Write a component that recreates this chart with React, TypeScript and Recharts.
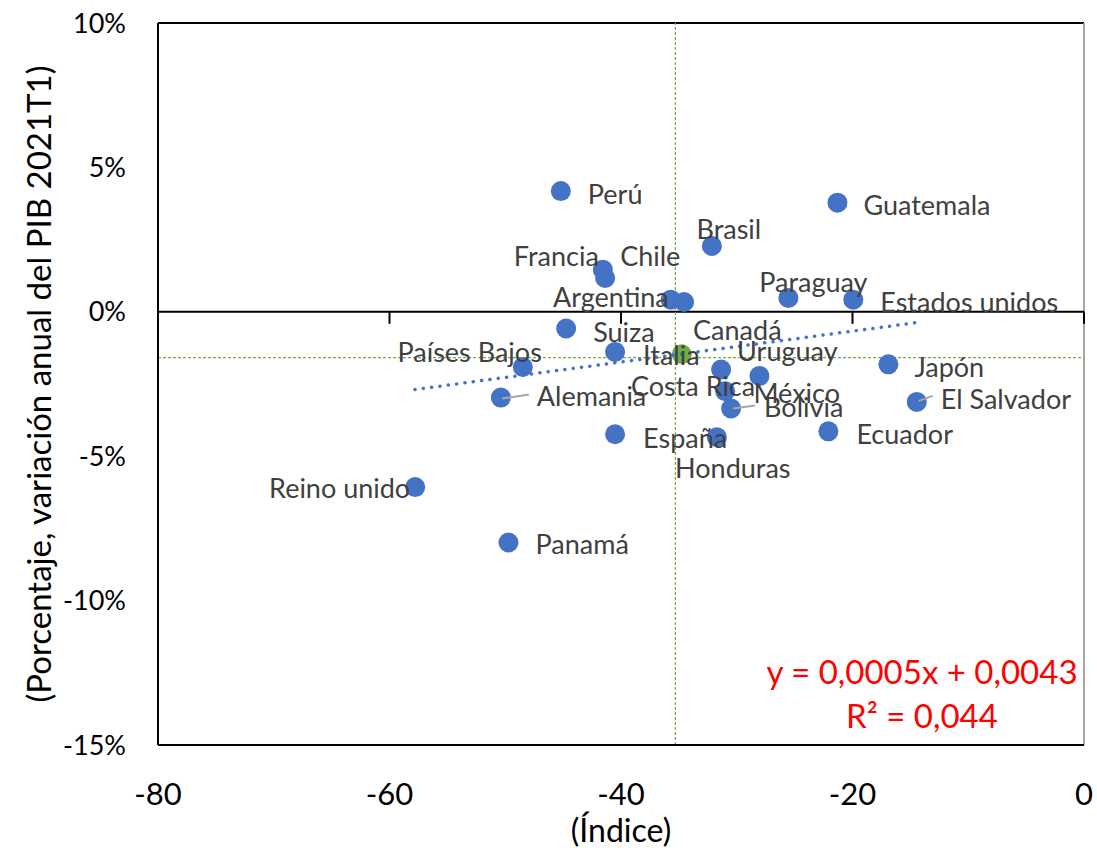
import {
  ScatterChart,
  Scatter,
  XAxis,
  YAxis,
  ReferenceLine,
} from "recharts";

// Data
const COUNTRIES = [
  "Perú", "Guatemala", "Brasil", "Francia", "Chile", "Argentina", "Canadá",
  "Paraguay", "Estados unidos", "Suiza", "Italia", "Países Bajos", "Uruguay",
  "México", "Costa Rica", "Bolivia", "Japón", "El Salvador", "Alemania",
  "España", "Honduras", "Ecuador", "Reino unido", "Panamá",
];
const INDEX_X = [
  -45.2, -21.3, -32.15, -41.57, -41.37, -35.7, -34.55,
  -25.54, -19.93, -44.74, -40.51, -48.48, -31.35,
  -28.04, -31.0, -30.49, -16.9, -14.45, -50.38,
  -40.51, -31.72, -22.08, -57.78, -49.72,
];
const GDP_Y = [
  4.18, 3.78, 2.28, 1.46, 1.17, 0.42, 0.34,
  0.48, 0.42, -0.58, -1.39, -1.91, -2.0,
  -2.22, -2.75, -3.35, -1.82, -3.12, -2.97,
  -4.24, -4.34, -4.14, -6.07, -7.99,
];
const AVERAGE_X = [-34.75];
const AVERAGE_Y = [-1.47];
const MEAN_LINE_X = -35.3;
const MEAN_LINE_Y = -1.59;
const TREND_X = [-57.8, -14.4];
const TREND_Y = [-2.69, -0.37];
const X_TICKS = [-80, -60, -40, -20, 0];
const Y_TICKS = [-15, -10, -5, 0, 5, 10];
const EQUATION = "y = 0,0005x + 0,0043";
const R_SQUARED = "R² = 0,044";

// Layout / style
const WIDTH = 1097;
const HEIGHT = 848;
const FONT = "Lato, 'Noto Sans', sans-serif";
const BLUE = "#4472C4";
const GREEN = "#70AD47";
const LABEL_COLOR = "#404040";

// label offsets relative to the point centre
type LabelPos = { dx: number; dy: number; anchor: "start" | "middle" | "end"; leader?: number[] };
const LABEL_POS: Record<string, LabelPos> = {
  "Perú": { dx: 27, dy: 2, anchor: "start" },
  "Guatemala": { dx: 26, dy: 2, anchor: "start" },
  "Brasil": { dx: 17, dy: -17, anchor: "middle" },
  "Francia": { dx: -4, dy: -14, anchor: "end" },
  "Chile": { dx: 15, dy: -23, anchor: "start" },
  "Argentina": { dx: -2, dy: -3, anchor: "end" },
  "Canadá": { dx: 9, dy: 28, anchor: "start" },
  "Paraguay": { dx: 25, dy: -16, anchor: "middle" },
  "Estados unidos": { dx: 27, dy: 2, anchor: "start" },
  "Suiza": { dx: 27, dy: 3, anchor: "start" },
  "Italia": { dx: 28, dy: 3, anchor: "start" },
  "Países Bajos": { dx: 19, dy: -15, anchor: "end" },
  "Uruguay": { dx: 16, dy: -19, anchor: "start" },
  "México": { dx: -6, dy: 17, anchor: "start" },
  "Costa Rica": { dx: 30, dy: -6, anchor: "end" },
  "Bolivia": { dx: 33, dy: -2, anchor: "start", leader: [2, 0, 24, -3] },
  "Japón": { dx: 26, dy: 2, anchor: "start" },
  "El Salvador": { dx: 24, dy: -3, anchor: "start", leader: [2, -1, 16, -6] },
  "Alemania": { dx: 36, dy: -2, anchor: "start", leader: [1, 1, 28, -3] },
  "España": { dx: 28, dy: 3, anchor: "start" },
  "Honduras": { dx: 16, dy: 30, anchor: "middle" },
  "Ecuador": { dx: 28, dy: 2, anchor: "start" },
  "Reino unido": { dx: -5, dy: 0, anchor: "end" },
  "Panamá": { dx: 27, dy: 1, anchor: "start" },
};

const countryData = COUNTRIES.map((name, i) => ({ name, x: INDEX_X[i], y: GDP_Y[i] }));
const averageData = AVERAGE_X.map((x, i) => ({ x, y: AVERAGE_Y[i] }));
const trendData = TREND_X.map((x, i) => ({ x, y: TREND_Y[i] }));

const dot = (color: string) => (props: any) => (
  <circle cx={props.cx} cy={props.cy} r={10} fill={color} />
);

const labelShape = (props: any) => {
  const name = props.payload?.name as string;
  const pos = LABEL_POS[name];
  if (!pos) return <g />;
  const { cx, cy } = props;
  return (
    <g>
      {pos.leader && (
        <line
          x1={cx + pos.leader[0]}
          y1={cy + pos.leader[1]}
          x2={cx + pos.leader[2]}
          y2={cy + pos.leader[3]}
          stroke="#A6A6A6"
          strokeWidth={2}
        />
      )}
      <text
        x={cx + pos.dx}
        y={cy + pos.dy}
        textAnchor={pos.anchor}
        dominantBaseline="central"
        fill={LABEL_COLOR}
        fontSize={27}
        fontFamily={FONT}
      >
        {name}
      </text>
    </g>
  );
};

// zero line with the x-axis tick marks hanging below it
const zeroAxis = (props: any) => {
  const { x1, x2, y1 } = props;
  const step = (x2 - x1) / (X_TICKS.length - 1);
  return (
    <g>
      <line x1={x1} y1={y1} x2={x2} y2={y1} stroke="#000" strokeWidth={2} />
      {X_TICKS.map((t, i) => (
        <line key={t} x1={x1 + i * step} y1={y1} x2={x1 + i * step} y2={y1 + 12} stroke="#000" strokeWidth={2} />
      ))}
    </g>
  );
};

export default function App() {
  return (
    <div style={{ position: "absolute", left: 0, top: 0, width: WIDTH, height: HEIGHT, background: "#fff" }}>
      <ScatterChart
        width={WIDTH}
        height={HEIGHT}
        margin={{ top: 23, right: 13, bottom: 0, left: 0 }}
      >
        <XAxis
          type="number"
          dataKey="x"
          domain={[-80, 0]}
          ticks={X_TICKS}
          height={103}
          axisLine={{ stroke: "#000", strokeWidth: 2 }}
          tickLine={false}
          tickMargin={32}
          tick={{ fill: "#000", fontSize: 31, fontFamily: FONT }}
          label={{
            value: "(Índice)",
            position: "insideBottom",
            offset: 6,
            fill: "#000",
            fontSize: 32,
            fontFamily: FONT,
          }}
        />
        <YAxis
          type="number"
          dataKey="y"
          domain={[-15, 10]}
          ticks={Y_TICKS}
          width={158}
          axisLine={{ stroke: "#000", strokeWidth: 2 }}
          tickLine={false}
          tickMargin={26}
          tickFormatter={(v: number) => `${v}%`}
          tick={{ fill: "#000", fontSize: 27, fontFamily: FONT }}
          label={{
            value: "(Porcentaje, variación anual del PIB 2021T1)",
            angle: -90,
            position: "insideLeft",
            offset: 39,
            fill: "#000",
            fontSize: 33,
            fontFamily: FONT,
            style: { textAnchor: "middle" },
          }}
        />
        <ReferenceLine y={10} stroke="#000" strokeWidth={2} />
        <ReferenceLine x={0} stroke="#A6A6A6" strokeWidth={2} />
        <ReferenceLine y={0} shape={zeroAxis} />
        <ReferenceLine x={MEAN_LINE_X} stroke={GREEN} strokeDasharray="3 2" strokeWidth={1.2} />
        <ReferenceLine y={MEAN_LINE_Y} stroke={GREEN} strokeDasharray="3 2" strokeWidth={1.2} />
        <Scatter
          data={countryData}
          shape={dot(BLUE)}
          isAnimationActive={false}
        />
        <Scatter
          data={averageData}
          shape={dot(GREEN)}
          isAnimationActive={false}
        />
        <Scatter
          data={trendData}
          line={{ stroke: BLUE, strokeWidth: 3.5, strokeDasharray: "0.1 8.3", strokeLinecap: "round" }}
          shape={() => <g />}
          isAnimationActive={false}
        />
        <Scatter
          data={countryData}
          shape={labelShape}
          isAnimationActive={false}
        />
      </ScatterChart>
      <svg
        width={WIDTH}
        height={HEIGHT}
        style={{ position: "absolute", left: 0, top: 0, pointerEvents: "none" }}
      >
        <text x={922} y={671} textAnchor="middle" dominantBaseline="central" fill="#FF0000" fontSize={33} fontFamily={FONT}>
          {EQUATION}
        </text>
        <text x={922} y={715} textAnchor="middle" dominantBaseline="central" fill="#FF0000" fontSize={33} fontFamily={FONT}>
          {R_SQUARED}
        </text>
      </svg>
    </div>
  );
}
